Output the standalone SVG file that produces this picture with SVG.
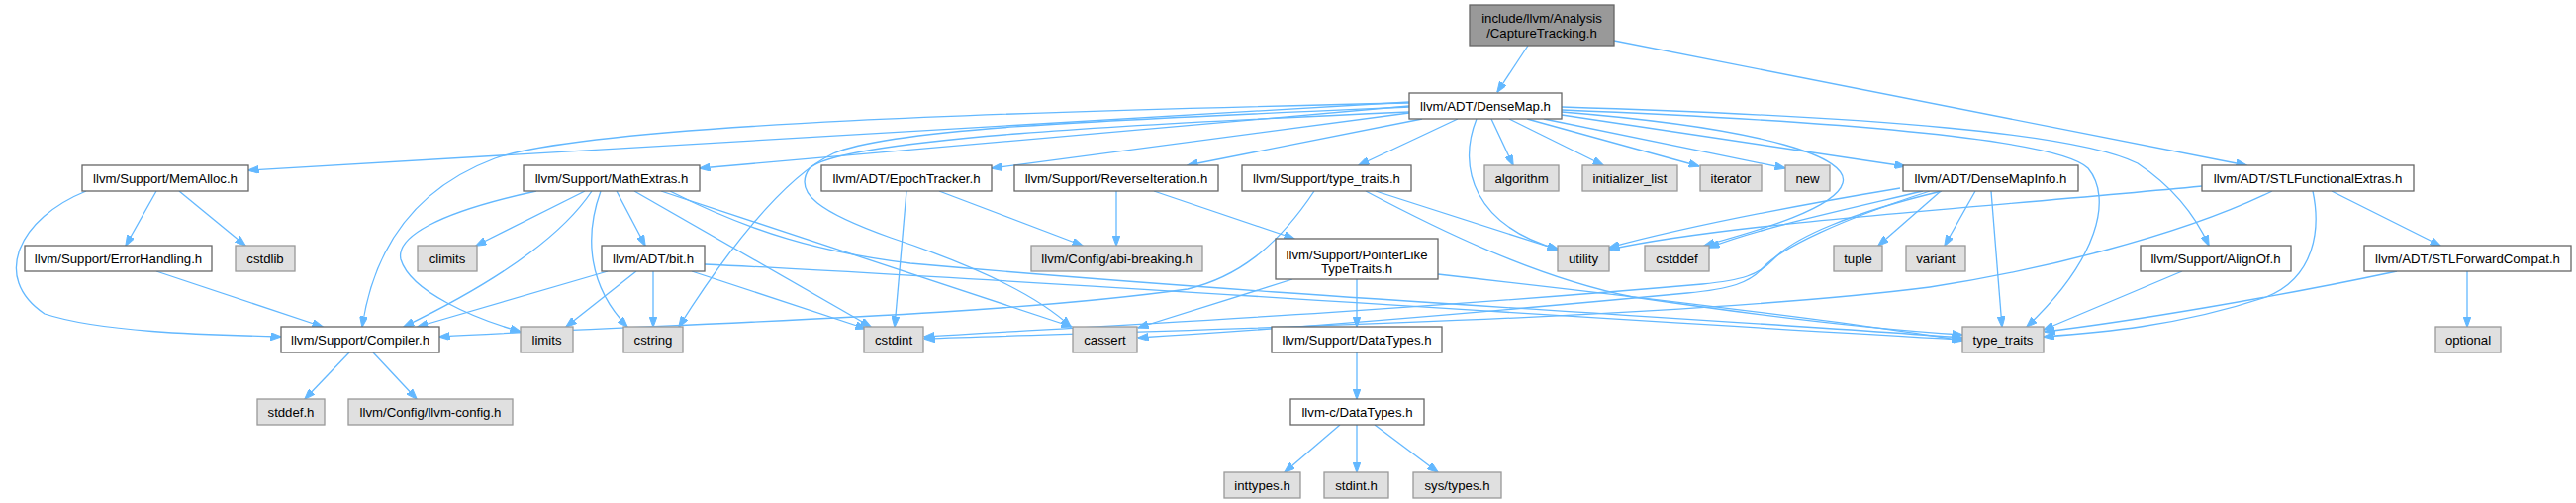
<svg xmlns="http://www.w3.org/2000/svg" width="2603" height="508" viewBox="0 0 2603 508">
<style>
.n rect{fill:#ffffff;stroke:#666666;stroke-width:1.3}
.g rect{fill:#e0e0e0;stroke:#999999;stroke-width:1.3}
.r rect{fill:#999999;stroke:#666666;stroke-width:1.3}
text{font-family:"Liberation Sans",Arial,sans-serif;font-size:13.2px;fill:#000;text-anchor:middle}
.e path{fill:none;stroke:#63b8ff;stroke-width:1.3;marker-end:url(#ah)}
</style>
<defs>
<marker id="ah" viewBox="0 0 11 8" refX="10.5" refY="4" markerWidth="11" markerHeight="8" markerUnits="userSpaceOnUse" orient="auto">
<path d="M0,0 L11,4 L0,8 z" fill="#63b8ff" stroke="#63b8ff" stroke-width="1"/>
</marker>
</defs>
<rect x="0" y="0" width="2603" height="508" fill="#ffffff"/>
<g id="edges" class="e">
<path d="M1544,46 L1513,93"/>
<path d="M1631,41 L2270,167"/>
<path d="M1424,103 L251,172"/>
<path d="M1424,107 L707,170"/>
<path d="M1424,114 L1002,170"/>
<path d="M1437,120 L1200,167"/>
<path d="M1473,120 L1373,167"/>
<path d="M1507,120 L1529,167"/>
<path d="M1525,120 L1620,167"/>
<path d="M1543,120 L1717,168"/>
<path d="M1560,120 L1804,170"/>
<path d="M1578,116 L1925,168"/>
<path d="M1578,108 C1900,118 2100,135 2160,165 C2190,185 2215,210 2232,248"/>
<path d="M1578,111 C1850,122 2080,140 2110,170 C2135,200 2120,262 2048,330"/>
<path d="M1578,113 C1790,130 1870,160 1862,185 C1855,210 1780,232 1722,248"/>
<path d="M1492,120 C1472,170 1490,228 1575,252"/>
<path d="M1424,104 C1050,112 600,125 500,160 C420,190 378,250 366,330"/>
<path d="M1424,108 C1100,122 900,130 842,155 C790,180 730,260 686,330"/>
<path d="M1424,113 C1150,125 850,140 818,170 C800,195 830,215 900,240 C990,270 1050,300 1082,330"/>
<path d="M87,193 C20,220 -10,280 45,317 C100,335 200,338 284,340"/>
<path d="M158,193 L127,248"/>
<path d="M181,193 L248,248"/>
<path d="M158,274 L326,330"/>
<path d="M542,193 C440,215 400,240 405,262 C415,295 480,322 526,335"/>
<path d="M598,193 C560,250 470,300 408,330"/>
<path d="M591,193 L481,248"/>
<path d="M607,193 C590,240 595,290 634,330"/>
<path d="M623,193 L652,248"/>
<path d="M641,193 L880,330"/>
<path d="M668,193 L1083,330"/>
<path d="M677,193 C760,235 830,255 920,266 C1300,300 1700,320 1983,341"/>
<path d="M614,274 L422,330"/>
<path d="M643,274 L572,330"/>
<path d="M660,274 L660,330"/>
<path d="M699,274 L875,332"/>
<path d="M712,267 C1000,280 1600,322 1983,343"/>
<path d="M949,193 L1094,248"/>
<path d="M916,193 L904,330"/>
<path d="M1128,193 L1128,248"/>
<path d="M1166,193 L1308,241"/>
<path d="M1390,193 L1574,252"/>
<path d="M1380,193 C1450,230 1550,280 1650,300 C1800,322 1900,333 1983,338"/>
<path d="M1328,193 C1290,250 1250,280 1200,292 C1000,320 700,326 444,340"/>
<path d="M1371,282 L1371,330"/>
<path d="M1306,282 C1250,300 1190,318 1150,331"/>
<path d="M1453,277 C1700,305 1900,330 1983,344"/>
<path d="M1371,356 L1371,403"/>
<path d="M1354,429 L1298,477"/>
<path d="M1371,429 L1371,477"/>
<path d="M1389,429 L1453,477"/>
<path d="M353,356 L308,403"/>
<path d="M377,356 L421,403"/>
<path d="M1920,190 C1800,210 1700,230 1626,250"/>
<path d="M1943,193 C1850,215 1780,230 1727,250"/>
<path d="M1962,193 C1870,215 1812,240 1792,262 C1777,278 1760,283 1720,287 C1400,315 1100,330 934,340"/>
<path d="M1950,193 C1860,222 1800,250 1782,270 C1768,286 1748,292 1705,296 C1450,320 1250,335 1150,341"/>
<path d="M1961,193 L1898,248"/>
<path d="M1996,193 L1965,248"/>
<path d="M2012,193 L2023,330"/>
<path d="M2225,188 C2000,210 1750,225 1626,252"/>
<path d="M2296,193 C2200,240 2050,275 1950,290 C1700,322 1200,333 934,342"/>
<path d="M2337,193 C2345,230 2340,280 2290,300 C2200,330 2120,336 2065,340"/>
<path d="M2356,193 L2466,248"/>
<path d="M2493,274 L2493,330"/>
<path d="M2422,274 C2300,300 2150,325 2066,335"/>
<path d="M2205,274 L2065,333"/>
</g>
<g id="CaptureTracking" class="r"><rect x="1485" y="5" width="146" height="41"/><text x="1558" y="23">include/llvm/Analysis</text><text x="1558" y="38">/CaptureTracking.h</text></g>
<g id="DenseMap" class="n"><rect x="1424" y="94" width="154" height="26"/><text x="1501" y="111.5">llvm/ADT/DenseMap.h</text></g>
<g id="MemAlloc" class="n"><rect x="83" y="167" width="168" height="26"/><text x="167" y="184.5">llvm/Support/MemAlloc.h</text></g>
<g id="MathExtras" class="n"><rect x="529" y="167" width="178" height="26"/><text x="618" y="184.5">llvm/Support/MathExtras.h</text></g>
<g id="EpochTracker" class="n"><rect x="830" y="167" width="172" height="26"/><text x="916" y="184.5">llvm/ADT/EpochTracker.h</text></g>
<g id="ReverseIteration" class="n"><rect x="1025" y="167" width="206" height="26"/><text x="1128" y="184.5">llvm/Support/ReverseIteration.h</text></g>
<g id="SupportTypeTraits" class="n"><rect x="1255" y="167" width="171" height="26"/><text x="1340.5" y="184.5">llvm/Support/type_traits.h</text></g>
<g id="algorithm" class="g"><rect x="1500" y="167" width="75" height="26"/><text x="1537.5" y="184.5">algorithm</text></g>
<g id="initializer_list" class="g"><rect x="1599" y="167" width="96" height="26"/><text x="1647" y="184.5">initializer_list</text></g>
<g id="iterator" class="g"><rect x="1718" y="167" width="62" height="26"/><text x="1749" y="184.5">iterator</text></g>
<g id="new" class="g"><rect x="1804" y="167" width="45" height="26"/><text x="1826.5" y="184.5">new</text></g>
<g id="DenseMapInfo" class="n"><rect x="1923" y="167" width="177" height="26"/><text x="2011.5" y="184.5">llvm/ADT/DenseMapInfo.h</text></g>
<g id="STLFunctionalExtras" class="n"><rect x="2225" y="167" width="214" height="26"/><text x="2332" y="184.5">llvm/ADT/STLFunctionalExtras.h</text></g>
<g id="ErrorHandling" class="n"><rect x="25" y="248" width="189" height="26"/><text x="119.5" y="265.5">llvm/Support/ErrorHandling.h</text></g>
<g id="cstdlib" class="g"><rect x="238" y="248" width="60" height="26"/><text x="268" y="265.5">cstdlib</text></g>
<g id="climits" class="g"><rect x="422" y="248" width="60" height="26"/><text x="452" y="265.5">climits</text></g>
<g id="bit" class="n"><rect x="608" y="248" width="104" height="26"/><text x="660" y="265.5">llvm/ADT/bit.h</text></g>
<g id="abi-breaking" class="g"><rect x="1042" y="248" width="173" height="26"/><text x="1128.5" y="265.5">llvm/Config/abi-breaking.h</text></g>
<g id="PointerLikeTypeTraits" class="n"><rect x="1289" y="241" width="164" height="41"/><text x="1371" y="261.5">llvm/Support/PointerLike</text><text x="1371" y="276">TypeTraits.h</text></g>
<g id="utility" class="g"><rect x="1574" y="248" width="52" height="26"/><text x="1600" y="265.5">utility</text></g>
<g id="cstddef" class="g"><rect x="1662" y="248" width="65" height="26"/><text x="1694.5" y="265.5">cstddef</text></g>
<g id="tuple" class="g"><rect x="1853" y="248" width="49" height="26"/><text x="1877.5" y="265.5">tuple</text></g>
<g id="variant" class="g"><rect x="1926" y="248" width="60" height="26"/><text x="1956" y="265.5">variant</text></g>
<g id="AlignOf" class="n"><rect x="2163" y="248" width="152" height="26"/><text x="2239" y="265.5">llvm/Support/AlignOf.h</text></g>
<g id="STLForwardCompat" class="n"><rect x="2389" y="248" width="209" height="26"/><text x="2493.5" y="265.5">llvm/ADT/STLForwardCompat.h</text></g>
<g id="Compiler" class="n"><rect x="284" y="330" width="160" height="26"/><text x="364" y="347.5">llvm/Support/Compiler.h</text></g>
<g id="limits" class="g"><rect x="526" y="330" width="53" height="26"/><text x="552.5" y="347.5">limits</text></g>
<g id="cstring" class="g"><rect x="630" y="330" width="60" height="26"/><text x="660" y="347.5">cstring</text></g>
<g id="cstdint" class="g"><rect x="873" y="330" width="60" height="26"/><text x="903" y="347.5">cstdint</text></g>
<g id="cassert" class="g"><rect x="1084" y="330" width="65" height="26"/><text x="1116.5" y="347.5">cassert</text></g>
<g id="DataTypes" class="n"><rect x="1285" y="330" width="172" height="26"/><text x="1371" y="347.5">llvm/Support/DataTypes.h</text></g>
<g id="type_traits" class="g"><rect x="1983" y="330" width="82" height="26"/><text x="2024" y="347.5">type_traits</text></g>
<g id="optional" class="g"><rect x="2461" y="330" width="66" height="26"/><text x="2494" y="347.5">optional</text></g>
<g id="stddef" class="g"><rect x="260" y="403" width="68" height="26"/><text x="294" y="420.5">stddef.h</text></g>
<g id="llvm-config" class="g"><rect x="352" y="403" width="166" height="26"/><text x="435" y="420.5">llvm/Config/llvm-config.h</text></g>
<g id="c-DataTypes" class="n"><rect x="1304" y="403" width="135" height="26"/><text x="1371.5" y="420.5">llvm-c/DataTypes.h</text></g>
<g id="inttypes" class="g"><rect x="1237" y="477" width="77" height="26"/><text x="1275.5" y="494.5">inttypes.h</text></g>
<g id="stdint" class="g"><rect x="1338" y="477" width="65" height="26"/><text x="1370.5" y="494.5">stdint.h</text></g>
<g id="systypes" class="g"><rect x="1428" y="477" width="89" height="26"/><text x="1472.5" y="494.5">sys/types.h</text></g>
</svg>
